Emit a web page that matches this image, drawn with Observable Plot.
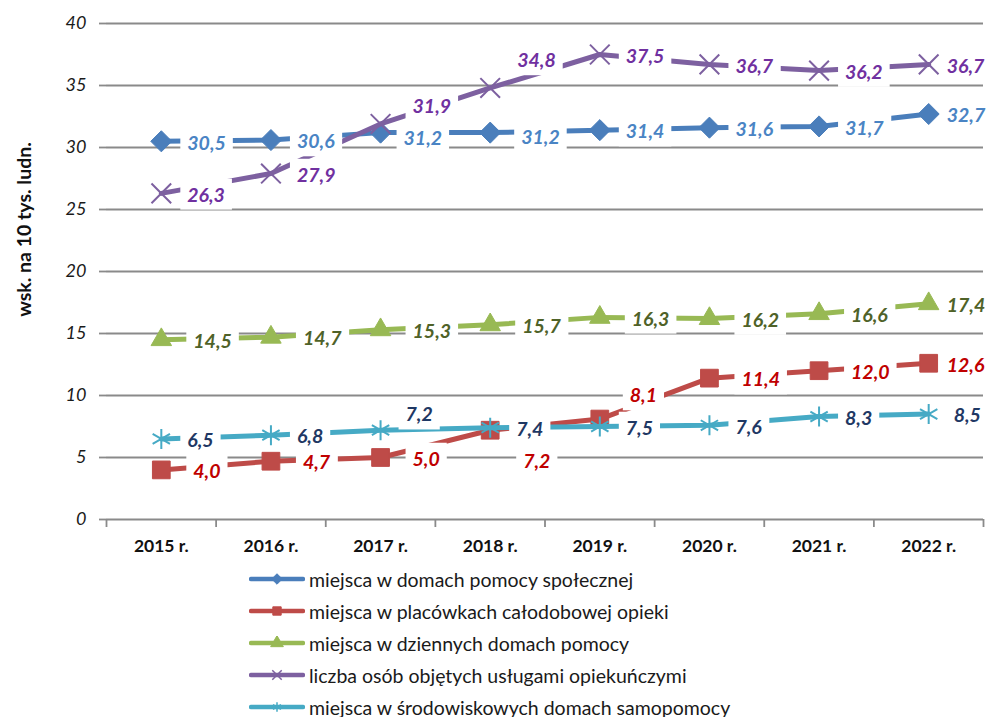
<!DOCTYPE html>
<html><head><meta charset="utf-8">
<script src="https://cdn.jsdelivr.net/npm/d3@7"></script>
<script src="https://cdn.jsdelivr.net/npm/@observablehq/plot@0.6"></script>
<style>
html,body{margin:0;padding:0;background:#fff;overflow:hidden;font-family:Lato,sans-serif;}
#chart svg{display:block}
#legend{padding-left:249px;margin-top:3px}
.row{display:flex;align-items:center;height:32px;font-size:19.5px;color:#1a1a1a;white-space:nowrap}
.row svg{margin-right:4px;display:block}
</style></head><body>
<div id="chart"></div><div id="legend"></div>
<script>
// ---- data ----
const years = [2015, 2016, 2017, 2018, 2019, 2020, 2021, 2022];
const yearLabels = ["2015 r.", "2016 r.", "2017 r.", "2018 r.", "2019 r.", "2020 r.", "2021 r.", "2022 r."];
const dps = [30.5, 30.6, 31.2, 31.2, 31.4, 31.6, 31.7, 32.7];
const pco = [4.0, 4.7, 5.0, 7.2, 8.1, 11.4, 12.0, 12.6];
const ddp = [14.5, 14.7, 15.3, 15.7, 16.3, 16.2, 16.6, 17.4];
const usl = [26.3, 27.9, 31.9, 34.8, 37.5, 36.7, 36.2, 36.7];
const sds = [6.5, 6.8, 7.2, 7.4, 7.5, 7.6, 8.3, 8.5];
const seriesNames = [
  "miejsca w domach pomocy społecznej",
  "miejsca w placówkach całodobowej opieki",
  "miejsca w dziennych domach pomocy",
  "liczba osób objętych usługami opiekuńczymi",
  "miejsca w środowiskowych domach samopomocy"
];
const yTicks = [0, 5, 10, 15, 20, 25, 30, 35, 40];
const yTitle = "wsk. na 10 tys. ludn.";

// ---- styles ----
const series = [
  {key: "dps", values: dps, line: "#4a7ebb", label: "#4a84c4", symbol: "diamond2", r: 9.5, filled: true, dx: 26},
  {key: "pco", values: pco, line: "#be4b48", label: "#c00000", symbol: "square", r: 10, filled: true, dx: 32},
  {key: "ddp", values: ddp, line: "#98b954", label: "#4f6228", symbol: "triangle", r: 7.6, filled: true, dx: 32},
  {key: "usl", values: usl, line: "#7d60a0", label: "#7030a0", symbol: "times", r: 9, filled: false, dx: 26},
  {key: "sds", values: sds, line: "#46aac5", label: "#1f3864", symbol: "asterisk", r: 9.5, filled: false, dx: 26}
];
// label offsets (screen px) for labels not at the default place
const labelNudges = {
  "dps-2017": [23, 6], "dps-2018": [31, 5],
  "usl-2017": [32, -17], "usl-2018": [27, -27],
  "pco-2018": [33, 32], "pco-2019": [30, -23],
  "sds-2017": [25, -15], "sds-2022": [25, 2]
};
const fmt = v => d3.format(".1f")(v).replace(".", ",");

const marks = [];
marks.push(Plot.gridY(yTicks, {stroke: "#8a8a8a", strokeOpacity: 1, strokeWidth: 1.8}));
const bounds = years.map(y => y - 0.5).concat([years[years.length - 1] + 0.5]);
marks.push(Plot.axisX(bounds, {tickSize: 8, tickFormat: () => "", label: null, stroke: "#8a8a8a", strokeWidth: 1.8}));
marks.push(Plot.axisX(years, {tickSize: 0, tickPadding: 20, label: null, tickFormat: d => yearLabels[years.indexOf(d)],
  fontWeight: "bold", fontSize: 17.5, fill: "#111"}));
marks.push(Plot.axisY(yTicks, {tickSize: 7, tickPadding: 13, label: null, stroke: "#8a8a8a", strokeWidth: 1.8,
  fontStyle: "italic", fontSize: 18, fill: "#1a1a1a"}));
marks.push(Plot.text([yTitle], {frameAnchor: "left", textAnchor: "middle", rotate: -90, dx: -82, dy: -42,
  fontWeight: "bold", fontSize: 19.5, fill: "#111"}));

for (const s of series) {
  const data = years.map((y, i) => ({year: y, value: s.values[i]}));
  marks.push(Plot.line(data, {x: "year", y: "value", stroke: s.line, strokeWidth: 5}));
  marks.push(Plot.dot(data, {x: "year", y: "value", symbol: () => s.symbol, r: s.r,
    fill: s.filled ? s.line : "none", stroke: s.line, strokeWidth: s.filled ? 1 : 2}));
}
for (const s of series) {
  years.forEach((y, i) => {
    const k = s.key + "-" + y;
    let dx = s.dx, dy = 2;
    if (y === 2022) dx = 18;
    if (labelNudges[k]) [dx, dy] = labelNudges[k];
    marks.push(Plot.text([{year: y, value: s.values[i]}], {x: "year", y: "value", text: d => fmt(d.value),
      dx, dy, textAnchor: "start", fill: s.label, fontWeight: "bold", fontStyle: "italic", fontSize: 19.5,
      ariaDescription: "data-labels"}));
  });
}

const chart = Plot.plot({
  width: 990, height: 560,
  marginTop: 23, marginBottom: 41, marginLeft: 106, marginRight: 7,
  style: {fontFamily: "Lato, sans-serif", background: "#fff"},
  x: {type: "linear", domain: [bounds[0], bounds[bounds.length - 1]], axis: null, label: null},
  y: {domain: [0, 40], axis: null, label: null},
  marks
});
document.getElementById("chart").appendChild(chart);

// white boxes behind data labels
chart.querySelectorAll('g[aria-description="data-labels"] text').forEach(t => {
  const b = t.getBBox();
  const r = document.createElementNS("http://www.w3.org/2000/svg", "rect");
  r.setAttribute("x", b.x - 7);
  r.setAttribute("y", b.y - 4);
  r.setAttribute("width", b.width + 14);
  r.setAttribute("height", b.height + 8);
  r.setAttribute("fill", "#fff");
  r.setAttribute("stroke", "none");
  if (t.getAttribute("transform")) r.setAttribute("transform", t.getAttribute("transform"));
  t.parentNode.insertBefore(r, t);
});

// legend
const legend = d3.select("#legend");
const symMap = {diamond2: d3.symbolDiamond2, square: d3.symbolSquare, triangle: d3.symbolTriangle, times: d3.symbolTimes, asterisk: d3.symbolAsterisk};
series.forEach((s, i) => {
  const row = legend.append("div").attr("class", "row");
  const sv = row.append("svg").attr("width", 56).attr("height", 14);
  sv.append("line").attr("x1", 2).attr("x2", 54).attr("y1", 7).attr("y2", 7)
    .attr("stroke", s.line).attr("stroke-width", 4.5).attr("stroke-linecap", "round");
  sv.append("path").attr("transform", "translate(28,7)")
    .attr("d", d3.symbol(symMap[s.symbol], s.filled ? 70 : 60)())
    .attr("fill", s.filled ? s.line : "none").attr("stroke", s.line).attr("stroke-width", s.filled ? 1 : 1.5);
  row.append("span").text(seriesNames[i]);
});
</script>
</body></html>
